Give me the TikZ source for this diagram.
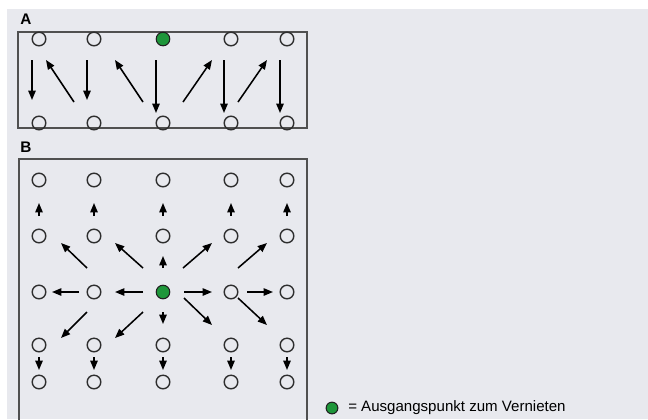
\documentclass[tikz,border=0pt]{standalone}
\usepackage{fontspec}
\setmainfont{Liberation Sans}
\usetikzlibrary{arrows.meta}
\definecolor{bg}{HTML}{E8E9EE}
\definecolor{frame}{HTML}{505050}
\definecolor{ring}{HTML}{2E2E2E}
\definecolor{rivet}{HTML}{1E963A}
\tikzset{
  hole/.style={circle,draw=ring,line width=1.05pt,minimum size=10.2pt,inner sep=0pt},
  start/.style={circle,draw=ring!70!black,fill=rivet,line width=0.8pt,minimum size=10.2pt,inner sep=0pt},
  arr/.style={line width=1.15pt,-{Triangle[length=7pt,width=5.5pt]}},
  box/.style={draw=frame,line width=1.05pt},
  lab/.style={font=\bfseries\fontsize{11.5}{13}\selectfont,inner sep=0pt}
}
\begin{document}
\begin{tikzpicture}[x=0.75pt,y=-0.75pt]
\useasboundingbox (0,0) rectangle (648,419);
\fill[bg] (7,9) rectangle (648,419);
% Panel A
\node[lab] (labA) at (26,19) {A};
\draw[box] (18,32) rectangle (307,128);
\foreach \x/\n in {39/1,94/2,231/4,287/5} {
  \node[hole] (at\n) at (\x,39) {};
}
\node[start] (at3) at (163,39) {};
\foreach \x/\n in {39/1,94/2,163/3,231/4,287/5} {
  \node[hole] (ab\n) at (\x,123) {};
}
\draw[arr] (32,60) -- (32,100);
\draw[arr] (74,102) -- (46,60);
\draw[arr] (87,60) -- (87,100);
\draw[arr] (143,102) -- (115,60);
\draw[arr] (156,60) -- (156,113);
\draw[arr] (183,102) -- (212,60);
\draw[arr] (224,60) -- (224,113);
\draw[arr] (238,102) -- (267,60);
\draw[arr] (280,60) -- (280,113);
% Panel B
\node[lab] (labB) at (26,147) {B};
\draw[box] (19,420) -- (19,159) -- (307,159) -- (307,420);
\foreach \y/\r in {180/1,236/2,345/4,382/5} {
  \foreach \x/\c in {39/1,94/2,163/3,231/4,287/5} {
    \node[hole] (b\r\c) at (\x,\y) {};
  }
}
\foreach \x/\c in {39/1,94/2,231/4,287/5} {
  \node[hole] (b3\c) at (\x,292) {};
}
\node[start] (b33) at (163,292) {};
\foreach \x in {39,94,163,231,287} {
  \draw[arr] (\x,216) -- (\x,203);
  \draw[arr] (\x,357) -- (\x,370);
}
\draw[arr] (87,268) -- (61,243);
\draw[arr] (143,268) -- (115,243);
\draw[arr] (163,268) -- (163,256);
\draw[arr] (183,268) -- (212,243);
\draw[arr] (238,268) -- (267,243);
\draw[arr] (79,292) -- (52,292);
\draw[arr] (143,292) -- (115,292);
\draw[arr] (184,292) -- (212,292);
\draw[arr] (247,292) -- (273,292);
\draw[arr] (87,312) -- (61,338);
\draw[arr] (143,312) -- (115,338);
\draw[arr] (163,312) -- (163,324);
\draw[arr] (184,298) -- (212,325);
\draw[arr] (238,298) -- (267,325);
% Legend
\node[start,minimum size=8.8pt] (leg) at (332,408) {};
\node[anchor=west,inner sep=0pt,font=\fontsize{11.3}{13}\selectfont] (legtext) at (348,408) {= Ausgangspunkt zum Vernieten};
\end{tikzpicture}
\end{document}
